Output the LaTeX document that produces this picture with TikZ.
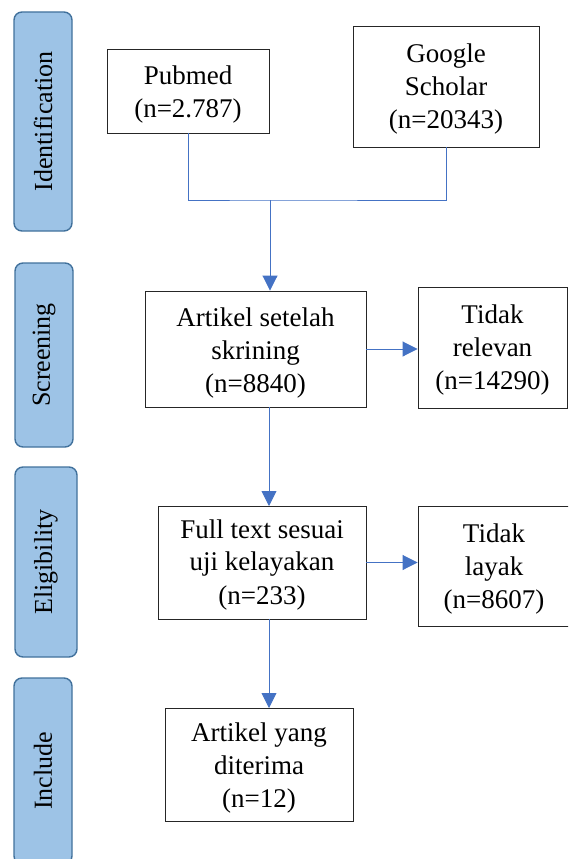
\documentclass[tikz,border=0pt]{standalone}
\usepackage{fontspec}
\setmainfont{Liberation Serif}
\usetikzlibrary{arrows.meta}
\definecolor{sidefill}{HTML}{9DC3E6}
\definecolor{sidedraw}{HTML}{41719C}
\definecolor{arrowblue}{HTML}{4472C4}
\begin{document}
\begin{tikzpicture}[x=1pt,y=-1pt,
  mainbox/.style={draw=black!85,line width=0.9pt,inner sep=0pt},
  boxtext/.style={align=center,inner sep=0pt,font=\fontsize{27}{33}\selectfont},
  sidebox/.style={draw=sidedraw,fill=sidefill,line width=1.4pt,rounded corners=8pt,
    rotate=90,inner sep=0pt,font=\fontsize{26}{30}\selectfont},
  conn/.style={draw=arrowblue,line width=0.9pt},
  arr/.style={conn,-{Triangle[width=15pt,length=15pt]}}]
\useasboundingbox (0,0) rectangle (568,859);
\clip (0,0) rectangle (568,859);
% side labels
\node[sidebox,minimum width=219pt,minimum height=58pt] (sid) at (43,121.5) {Identification};
\node[sidebox,minimum width=184pt,minimum height=58pt] (sscr) at (44,355) {Screening};
\node[sidebox,minimum width=190pt,minimum height=62pt] (selig) at (46,562) {Eligibility};
\node[sidebox,minimum width=186pt,minimum height=58pt] (sinc) at (43,771) {Include};
% main boxes
\node[mainbox,minimum width=162pt,minimum height=84pt] (pub) at (188,91) {};
\node[mainbox,minimum width=186pt,minimum height=121pt] (gs) at (446,86.5) {};
\node[mainbox,minimum width=221pt,minimum height=116pt] (scr) at (255.5,349) {};
\node[mainbox,minimum width=149pt,minimum height=121pt] (rel) at (492.5,347.5) {};
\node[mainbox,minimum width=208pt,minimum height=113pt] (elig) at (262,562.5) {};
\node[mainbox,minimum width=152pt,minimum height=120pt] (lay) at (494,566) {};
\node[mainbox,minimum width=188pt,minimum height=113pt] (inc) at (259,764.5) {};
% texts
\node[boxtext] (pubt) at ([yshift=-4pt]pub.center) {Pubmed\\(n=2.787)};
\node[boxtext] (gst) at ([yshift=-3pt]gs.center) {Google\\Scholar\\(n=20343)};
\node[boxtext] (scrt) at ([yshift=-4pt]scr.center) {Artikel setelah\\skrining\\(n=8840)};
\node[boxtext] (relt) at ([yshift=-3pt]rel.center) {Tidak\\relevan\\(n=14290)};
\node[boxtext] (eligt) at ([yshift=-2pt]elig.center) {Full text sesuai\\uji kelayakan\\(n=233)};
\node[boxtext] (layt) at ([yshift=-3pt]lay.center) {Tidak\\layak\\(n=8607)};
\node[boxtext] (inct) at ([yshift=-3pt]inc.center) {Artikel yang\\diterima\\(n=12)};
% connectors
\coordinate (j) at (270,200);
\path[conn] (pub.south) |- (j) -| (gs.south);
\draw[arr] (j) -- (j |- scr.north);
\draw[arr] (scr.east) -- (rel.west |- scr.east);
\draw[arr] (269,407) -- (269,506);
\draw[arr] (elig.east) -- (lay.west |- elig.east);
\draw[arr] (269,619) -- (269,708);
\end{tikzpicture}
\end{document}
